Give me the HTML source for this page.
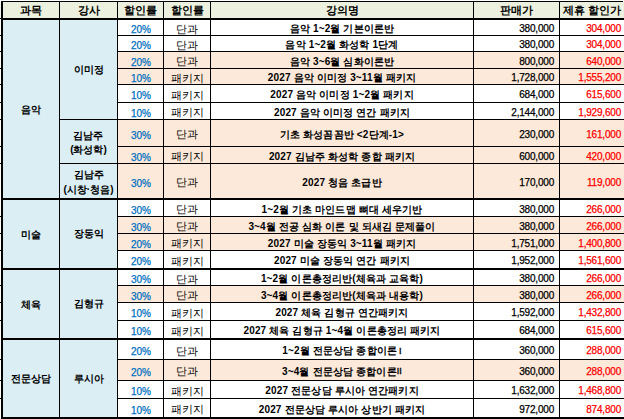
<!DOCTYPE html><html><head><meta charset="utf-8"><style>
html,body{margin:0;padding:0;width:624px;height:419px;overflow:hidden;background:#fff;}
body{position:relative;font-family:"Liberation Sans",sans-serif;font-size:10px;color:#000;}

.c{position:absolute;display:flex;align-items:center;justify-content:center;white-space:nowrap;overflow:hidden;line-height:1.15;box-sizing:border-box;padding-top:3px}
.r{justify-content:flex-end;padding-right:5px;letter-spacing:-0.2px}
.n{-webkit-text-stroke:0.25px currentColor}
.cn{letter-spacing:0.15px}
.h{font-size:11px;font-weight:bold;padding-top:1px}
.b{font-weight:bold}
.ln{position:absolute;background:#000}
.t{text-align:center;line-height:14.5px}

</style></head><body>
<div class="c h" style="left:3px;top:2px;width:56px;height:16px;background:#EBF1DE;">과목</div>
<div class="c h" style="left:60px;top:2px;width:57px;height:16px;background:#EBF1DE;">강사</div>
<div class="c h" style="left:118px;top:2px;width:45px;height:16px;background:#EBF1DE;">할인률</div>
<div class="c h" style="left:164px;top:2px;width:46px;height:16px;background:#EBF1DE;">할인률</div>
<div class="c h" style="left:211px;top:2px;width:262px;height:16px;background:#EBF1DE;">강의명</div>
<div class="c h" style="left:474px;top:2px;width:85px;height:16px;background:#EBF1DE;">판매가</div>
<div class="c h" style="left:560px;top:2px;width:64px;height:16px;background:#EBF1DE;">제휴 할인가</div>
<div class="c n" style="left:118px;top:20px;width:45px;height:15px;color:#0070C0;padding-top:5px;padding-left:1px;">20%</div>
<div class="c " style="left:164px;top:20px;width:46px;height:15px;font-size:10.5px;">단과</div>
<div class="c b cn" style="left:211px;top:20px;width:262px;height:15px;">음악 1~2월 기본이론반</div>
<div class="c r n" style="left:474px;top:20px;width:85px;height:15px;">380,000</div>
<div class="c r n" style="left:560px;top:20px;width:64px;height:15px;color:#FF0000;padding-right:3px;">304,000</div>
<div class="c n" style="left:118px;top:36px;width:45px;height:15px;color:#0070C0;padding-top:5px;padding-left:1px;">20%</div>
<div class="c " style="left:164px;top:36px;width:46px;height:15px;font-size:10.5px;">단과</div>
<div class="c b cn" style="left:211px;top:36px;width:262px;height:15px;">음악 1~2월 화성학 1단계</div>
<div class="c r n" style="left:474px;top:36px;width:85px;height:15px;">380,000</div>
<div class="c r n" style="left:560px;top:36px;width:64px;height:15px;color:#FF0000;padding-right:3px;">304,000</div>
<div class="c n" style="left:118px;top:52px;width:45px;height:16px;background:#FDE9D9;color:#0070C0;padding-top:5px;padding-left:1px;">20%</div>
<div class="c " style="left:164px;top:52px;width:46px;height:16px;background:#FDE9D9;font-size:10.5px;">단과</div>
<div class="c b cn" style="left:211px;top:52px;width:262px;height:16px;background:#FDE9D9;">음악 3~6월 심화이론반</div>
<div class="c r n" style="left:474px;top:52px;width:85px;height:16px;background:#FDE9D9;">800,000</div>
<div class="c r n" style="left:560px;top:52px;width:64px;height:16px;background:#FDE9D9;color:#FF0000;padding-right:3px;">640,000</div>
<div class="c n" style="left:118px;top:69px;width:45px;height:15px;background:#FDE9D9;color:#0070C0;padding-top:5px;padding-left:1px;">10%</div>
<div class="c " style="left:164px;top:69px;width:46px;height:15px;background:#FDE9D9;font-size:10.5px;">패키지</div>
<div class="c b cn" style="left:211px;top:69px;width:262px;height:15px;background:#FDE9D9;">2027 음악 이미정 3~11월 패키지</div>
<div class="c r n" style="left:474px;top:69px;width:85px;height:15px;background:#FDE9D9;">1,728,000</div>
<div class="c r n" style="left:560px;top:69px;width:64px;height:15px;background:#FDE9D9;color:#FF0000;padding-right:3px;">1,555,200</div>
<div class="c n" style="left:118px;top:85px;width:45px;height:17px;color:#0070C0;padding-top:5px;padding-left:1px;">10%</div>
<div class="c " style="left:164px;top:85px;width:46px;height:17px;font-size:10.5px;">패키지</div>
<div class="c b cn" style="left:211px;top:85px;width:262px;height:17px;">2027 음악 이미정 1~2월 패키지</div>
<div class="c r n" style="left:474px;top:85px;width:85px;height:17px;">684,000</div>
<div class="c r n" style="left:560px;top:85px;width:64px;height:17px;color:#FF0000;padding-right:3px;">615,600</div>
<div class="c n" style="left:118px;top:103px;width:45px;height:16px;color:#0070C0;padding-top:5px;padding-left:1px;">10%</div>
<div class="c " style="left:164px;top:103px;width:46px;height:16px;font-size:10.5px;">패키지</div>
<div class="c b cn" style="left:211px;top:103px;width:262px;height:16px;">2027 음악 이미정 연간 패키지</div>
<div class="c r n" style="left:474px;top:103px;width:85px;height:16px;">2,144,000</div>
<div class="c r n" style="left:560px;top:103px;width:64px;height:16px;color:#FF0000;padding-right:3px;">1,929,600</div>
<div class="c n" style="left:118px;top:120px;width:45px;height:26px;background:#FDE9D9;color:#0070C0;padding-top:5px;padding-left:1px;">30%</div>
<div class="c " style="left:164px;top:120px;width:46px;height:26px;background:#FDE9D9;font-size:10.5px;">단과</div>
<div class="c b cn" style="left:211px;top:120px;width:262px;height:26px;background:#FDE9D9;">기초 화성꼼꼼반 &lt;2단계-1&gt;</div>
<div class="c r n" style="left:474px;top:120px;width:85px;height:26px;background:#FDE9D9;">230,000</div>
<div class="c r n" style="left:560px;top:120px;width:64px;height:26px;background:#FDE9D9;color:#FF0000;padding-right:3px;">161,000</div>
<div class="c n" style="left:118px;top:147px;width:45px;height:16px;background:#FDE9D9;color:#0070C0;padding-top:5px;padding-left:1px;">30%</div>
<div class="c " style="left:164px;top:147px;width:46px;height:16px;background:#FDE9D9;font-size:10.5px;">패키지</div>
<div class="c b cn" style="left:211px;top:147px;width:262px;height:16px;background:#FDE9D9;">2027 김남주 화성학 종합 패키지</div>
<div class="c r n" style="left:474px;top:147px;width:85px;height:16px;background:#FDE9D9;">600,000</div>
<div class="c r n" style="left:560px;top:147px;width:64px;height:16px;background:#FDE9D9;color:#FF0000;padding-right:3px;">420,000</div>
<div class="c n" style="left:118px;top:164px;width:45px;height:34px;background:#FDE9D9;color:#0070C0;padding-top:5px;padding-left:1px;">30%</div>
<div class="c " style="left:164px;top:164px;width:46px;height:34px;background:#FDE9D9;font-size:10.5px;">단과</div>
<div class="c b cn" style="left:211px;top:164px;width:262px;height:34px;background:#FDE9D9;">2027 청음 초급반</div>
<div class="c r n" style="left:474px;top:164px;width:85px;height:34px;background:#FDE9D9;">170,000</div>
<div class="c r n" style="left:560px;top:164px;width:64px;height:34px;background:#FDE9D9;color:#FF0000;padding-right:3px;">119,000</div>
<div class="c n" style="left:118px;top:200px;width:45px;height:16px;color:#0070C0;padding-top:5px;padding-left:1px;">30%</div>
<div class="c " style="left:164px;top:200px;width:46px;height:16px;font-size:10.5px;">단과</div>
<div class="c b cn" style="left:211px;top:200px;width:262px;height:16px;">1~2월 기초 마인드맵 뼈대 세우기반</div>
<div class="c r n" style="left:474px;top:200px;width:85px;height:16px;">380,000</div>
<div class="c r n" style="left:560px;top:200px;width:64px;height:16px;color:#FF0000;padding-right:3px;">266,000</div>
<div class="c n" style="left:118px;top:217px;width:45px;height:16px;background:#FDE9D9;color:#0070C0;padding-top:5px;padding-left:1px;">30%</div>
<div class="c " style="left:164px;top:217px;width:46px;height:16px;background:#FDE9D9;font-size:10.5px;">단과</div>
<div class="c b cn" style="left:211px;top:217px;width:262px;height:16px;background:#FDE9D9;">3~4월 전공 심화 이론 및 되새김 문제풀이</div>
<div class="c r n" style="left:474px;top:217px;width:85px;height:16px;background:#FDE9D9;">380,000</div>
<div class="c r n" style="left:560px;top:217px;width:64px;height:16px;background:#FDE9D9;color:#FF0000;padding-right:3px;">266,000</div>
<div class="c n" style="left:118px;top:234px;width:45px;height:16px;background:#FDE9D9;color:#0070C0;padding-top:5px;padding-left:1px;">20%</div>
<div class="c " style="left:164px;top:234px;width:46px;height:16px;background:#FDE9D9;font-size:10.5px;">패키지</div>
<div class="c b cn" style="left:211px;top:234px;width:262px;height:16px;background:#FDE9D9;">2027 미술 장동익 3~11월 패키지</div>
<div class="c r n" style="left:474px;top:234px;width:85px;height:16px;background:#FDE9D9;">1,751,000</div>
<div class="c r n" style="left:560px;top:234px;width:64px;height:16px;background:#FDE9D9;color:#FF0000;padding-right:3px;">1,400,800</div>
<div class="c n" style="left:118px;top:251px;width:45px;height:17px;color:#0070C0;padding-top:5px;padding-left:1px;">20%</div>
<div class="c " style="left:164px;top:251px;width:46px;height:17px;font-size:10.5px;">패키지</div>
<div class="c b cn" style="left:211px;top:251px;width:262px;height:17px;">2027 미술 장동익 연간 패키지</div>
<div class="c r n" style="left:474px;top:251px;width:85px;height:17px;">1,952,000</div>
<div class="c r n" style="left:560px;top:251px;width:64px;height:17px;color:#FF0000;padding-right:3px;">1,561,600</div>
<div class="c n" style="left:118px;top:270px;width:45px;height:15px;color:#0070C0;padding-top:5px;padding-left:1px;">30%</div>
<div class="c " style="left:164px;top:270px;width:46px;height:15px;font-size:10.5px;">단과</div>
<div class="c b cn" style="left:211px;top:270px;width:262px;height:15px;">1~2월 이론총정리반(체육과 교육학)</div>
<div class="c r n" style="left:474px;top:270px;width:85px;height:15px;">380,000</div>
<div class="c r n" style="left:560px;top:270px;width:64px;height:15px;color:#FF0000;padding-right:3px;">266,000</div>
<div class="c n" style="left:118px;top:286px;width:45px;height:16px;background:#FDE9D9;color:#0070C0;padding-top:5px;padding-left:1px;">30%</div>
<div class="c " style="left:164px;top:286px;width:46px;height:16px;background:#FDE9D9;font-size:10.5px;">단과</div>
<div class="c b cn" style="left:211px;top:286px;width:262px;height:16px;background:#FDE9D9;">3~4월 이론총정리반(체육과 내용학)</div>
<div class="c r n" style="left:474px;top:286px;width:85px;height:16px;background:#FDE9D9;">380,000</div>
<div class="c r n" style="left:560px;top:286px;width:64px;height:16px;background:#FDE9D9;color:#FF0000;padding-right:3px;">266,000</div>
<div class="c n" style="left:118px;top:303px;width:45px;height:17px;color:#0070C0;padding-top:5px;padding-left:1px;">10%</div>
<div class="c " style="left:164px;top:303px;width:46px;height:17px;font-size:10.5px;">패키지</div>
<div class="c b cn" style="left:211px;top:303px;width:262px;height:17px;">2027 체육 김형규 연간패키지</div>
<div class="c r n" style="left:474px;top:303px;width:85px;height:17px;">1,592,000</div>
<div class="c r n" style="left:560px;top:303px;width:64px;height:17px;color:#FF0000;padding-right:3px;">1,432,800</div>
<div class="c n" style="left:118px;top:321px;width:45px;height:17px;color:#0070C0;padding-top:5px;padding-left:1px;">10%</div>
<div class="c " style="left:164px;top:321px;width:46px;height:17px;font-size:10.5px;">패키지</div>
<div class="c b cn" style="left:211px;top:321px;width:262px;height:17px;">2027 체육 김형규 1~4월 이론총정리 패키지</div>
<div class="c r n" style="left:474px;top:321px;width:85px;height:17px;">684,000</div>
<div class="c r n" style="left:560px;top:321px;width:64px;height:17px;color:#FF0000;padding-right:3px;">615,600</div>
<div class="c n" style="left:118px;top:340px;width:45px;height:19px;color:#0070C0;padding-top:5px;padding-left:1px;">20%</div>
<div class="c " style="left:164px;top:340px;width:46px;height:19px;font-size:10.5px;">단과</div>
<div class="c b cn" style="left:211px;top:340px;width:262px;height:19px;">1~2월 전문상담 종합이론 <span style="margin-left:2px;font-size:9px;font-weight:normal;-webkit-text-stroke:0.35px;vertical-align:-0.5px">I</span></div>
<div class="c r n" style="left:474px;top:340px;width:85px;height:19px;">360,000</div>
<div class="c r n" style="left:560px;top:340px;width:64px;height:19px;color:#FF0000;padding-right:3px;">288,000</div>
<div class="c n" style="left:118px;top:360px;width:45px;height:20px;background:#FDE9D9;color:#0070C0;padding-top:5px;padding-left:1px;">20%</div>
<div class="c " style="left:164px;top:360px;width:46px;height:20px;background:#FDE9D9;font-size:10.5px;">단과</div>
<div class="c b cn" style="left:211px;top:360px;width:262px;height:20px;background:#FDE9D9;">3~4월 전문상담 종합이론<span style="font-size:9px;font-weight:normal;-webkit-text-stroke:0.35px;vertical-align:-0.5px">II</span></div>
<div class="c r n" style="left:474px;top:360px;width:85px;height:20px;background:#FDE9D9;">360,000</div>
<div class="c r n" style="left:560px;top:360px;width:64px;height:20px;background:#FDE9D9;color:#FF0000;padding-right:3px;">288,000</div>
<div class="c n" style="left:118px;top:381px;width:45px;height:17px;color:#0070C0;padding-top:5px;padding-left:1px;">10%</div>
<div class="c " style="left:164px;top:381px;width:46px;height:17px;font-size:10.5px;">패키지</div>
<div class="c b cn" style="left:211px;top:381px;width:262px;height:17px;">2027 전문상담 루시아 연간패키지</div>
<div class="c r n" style="left:474px;top:381px;width:85px;height:17px;">1,632,000</div>
<div class="c r n" style="left:560px;top:381px;width:64px;height:17px;color:#FF0000;padding-right:3px;">1,468,800</div>
<div class="c n" style="left:118px;top:399px;width:45px;height:18px;color:#0070C0;padding-top:5px;padding-left:1px;">10%</div>
<div class="c " style="left:164px;top:399px;width:46px;height:18px;font-size:10.5px;">패키지</div>
<div class="c b cn" style="left:211px;top:399px;width:262px;height:18px;">2027 전문상담 루시아 상반기 패키지</div>
<div class="c r n" style="left:474px;top:399px;width:85px;height:18px;">972,000</div>
<div class="c r n" style="left:560px;top:399px;width:64px;height:18px;color:#FF0000;padding-right:3px;">874,800</div>
<div class="c b" style="left:3px;top:20px;width:56px;height:178px;background:#DAEEF3;padding-top:1px;">음악</div>
<div class="c b" style="left:3px;top:200px;width:56px;height:68px;background:#DAEEF3;padding-top:1px;">미술</div>
<div class="c b" style="left:3px;top:270px;width:56px;height:68px;background:#DAEEF3;padding-top:1px;">체육</div>
<div class="c b" style="left:3px;top:340px;width:56px;height:77px;background:#DAEEF3;padding-top:1px;">전문상담</div>
<div class="c b t" style="left:60px;top:20px;width:57px;height:99px;background:#DAEEF3;padding-top:1px;">이미정</div>
<div class="c b t" style="left:60px;top:120px;width:57px;height:43px;background:#DAEEF3;padding-top:3px;">김남주<br>(화성학)</div>
<div class="c b t" style="left:60px;top:164px;width:57px;height:34px;background:#DAEEF3;padding-top:3px;">김남주<br>(시창·청음)</div>
<div class="c b t" style="left:60px;top:200px;width:57px;height:68px;background:#DAEEF3;padding-top:1px;">장동익</div>
<div class="c b t" style="left:60px;top:270px;width:57px;height:68px;background:#DAEEF3;padding-top:1px;">김형규</div>
<div class="c b t" style="left:60px;top:340px;width:57px;height:77px;background:#DAEEF3;padding-top:1px;">루시아</div>
<div class="ln" style="left:0;top:2px;width:1px;height:16px;background:#F4F6EC"></div>
<div class="ln" style="left:1px;top:1px;width:622px;height:1px"></div>
<div class="ln" style="left:1px;top:18px;width:623px;height:2px"></div>
<div class="ln" style="left:0;top:18px;width:1px;height:1px"></div>
<div class="ln" style="left:117px;top:35px;width:507px;height:1px"></div>
<div class="ln" style="left:0;top:35px;width:1px;height:1px"></div>
<div class="ln" style="left:117px;top:51px;width:507px;height:1px"></div>
<div class="ln" style="left:0;top:51px;width:1px;height:1px"></div>
<div class="ln" style="left:117px;top:68px;width:507px;height:1px"></div>
<div class="ln" style="left:0;top:68px;width:1px;height:1px"></div>
<div class="ln" style="left:117px;top:84px;width:507px;height:1px"></div>
<div class="ln" style="left:0;top:84px;width:1px;height:1px"></div>
<div class="ln" style="left:117px;top:102px;width:507px;height:1px"></div>
<div class="ln" style="left:0;top:102px;width:1px;height:1px"></div>
<div class="ln" style="left:59px;top:119px;width:565px;height:1px"></div>
<div class="ln" style="left:0;top:119px;width:1px;height:1px"></div>
<div class="ln" style="left:117px;top:146px;width:507px;height:1px"></div>
<div class="ln" style="left:0;top:146px;width:1px;height:1px"></div>
<div class="ln" style="left:59px;top:163px;width:565px;height:1px"></div>
<div class="ln" style="left:0;top:163px;width:1px;height:1px"></div>
<div class="ln" style="left:1px;top:198px;width:623px;height:2px"></div>
<div class="ln" style="left:117px;top:216px;width:507px;height:1px"></div>
<div class="ln" style="left:0;top:216px;width:1px;height:1px"></div>
<div class="ln" style="left:117px;top:233px;width:507px;height:1px"></div>
<div class="ln" style="left:0;top:233px;width:1px;height:1px"></div>
<div class="ln" style="left:117px;top:250px;width:507px;height:1px"></div>
<div class="ln" style="left:0;top:250px;width:1px;height:1px"></div>
<div class="ln" style="left:1px;top:268px;width:623px;height:2px"></div>
<div class="ln" style="left:117px;top:285px;width:507px;height:1px"></div>
<div class="ln" style="left:0;top:285px;width:1px;height:1px"></div>
<div class="ln" style="left:117px;top:302px;width:507px;height:1px"></div>
<div class="ln" style="left:0;top:302px;width:1px;height:1px"></div>
<div class="ln" style="left:117px;top:320px;width:507px;height:1px"></div>
<div class="ln" style="left:0;top:320px;width:1px;height:1px"></div>
<div class="ln" style="left:1px;top:338px;width:623px;height:2px"></div>
<div class="ln" style="left:117px;top:359px;width:507px;height:1px"></div>
<div class="ln" style="left:0;top:359px;width:1px;height:1px"></div>
<div class="ln" style="left:117px;top:380px;width:507px;height:1px"></div>
<div class="ln" style="left:0;top:380px;width:1px;height:1px"></div>
<div class="ln" style="left:117px;top:398px;width:507px;height:1px"></div>
<div class="ln" style="left:0;top:398px;width:1px;height:1px"></div>
<div class="ln" style="left:1px;top:417px;width:623px;height:2px"></div>
<div class="ln" style="left:1px;top:1px;width:2px;height:418px"></div>
<div class="ln" style="left:59px;top:1px;width:1px;height:418px"></div>
<div class="ln" style="left:117px;top:1px;width:1px;height:418px"></div>
<div class="ln" style="left:163px;top:1px;width:1px;height:418px"></div>
<div class="ln" style="left:210px;top:1px;width:1px;height:418px"></div>
<div class="ln" style="left:473px;top:1px;width:1px;height:418px"></div>
<div class="ln" style="left:559px;top:1px;width:1px;height:418px"></div>
</body></html>
